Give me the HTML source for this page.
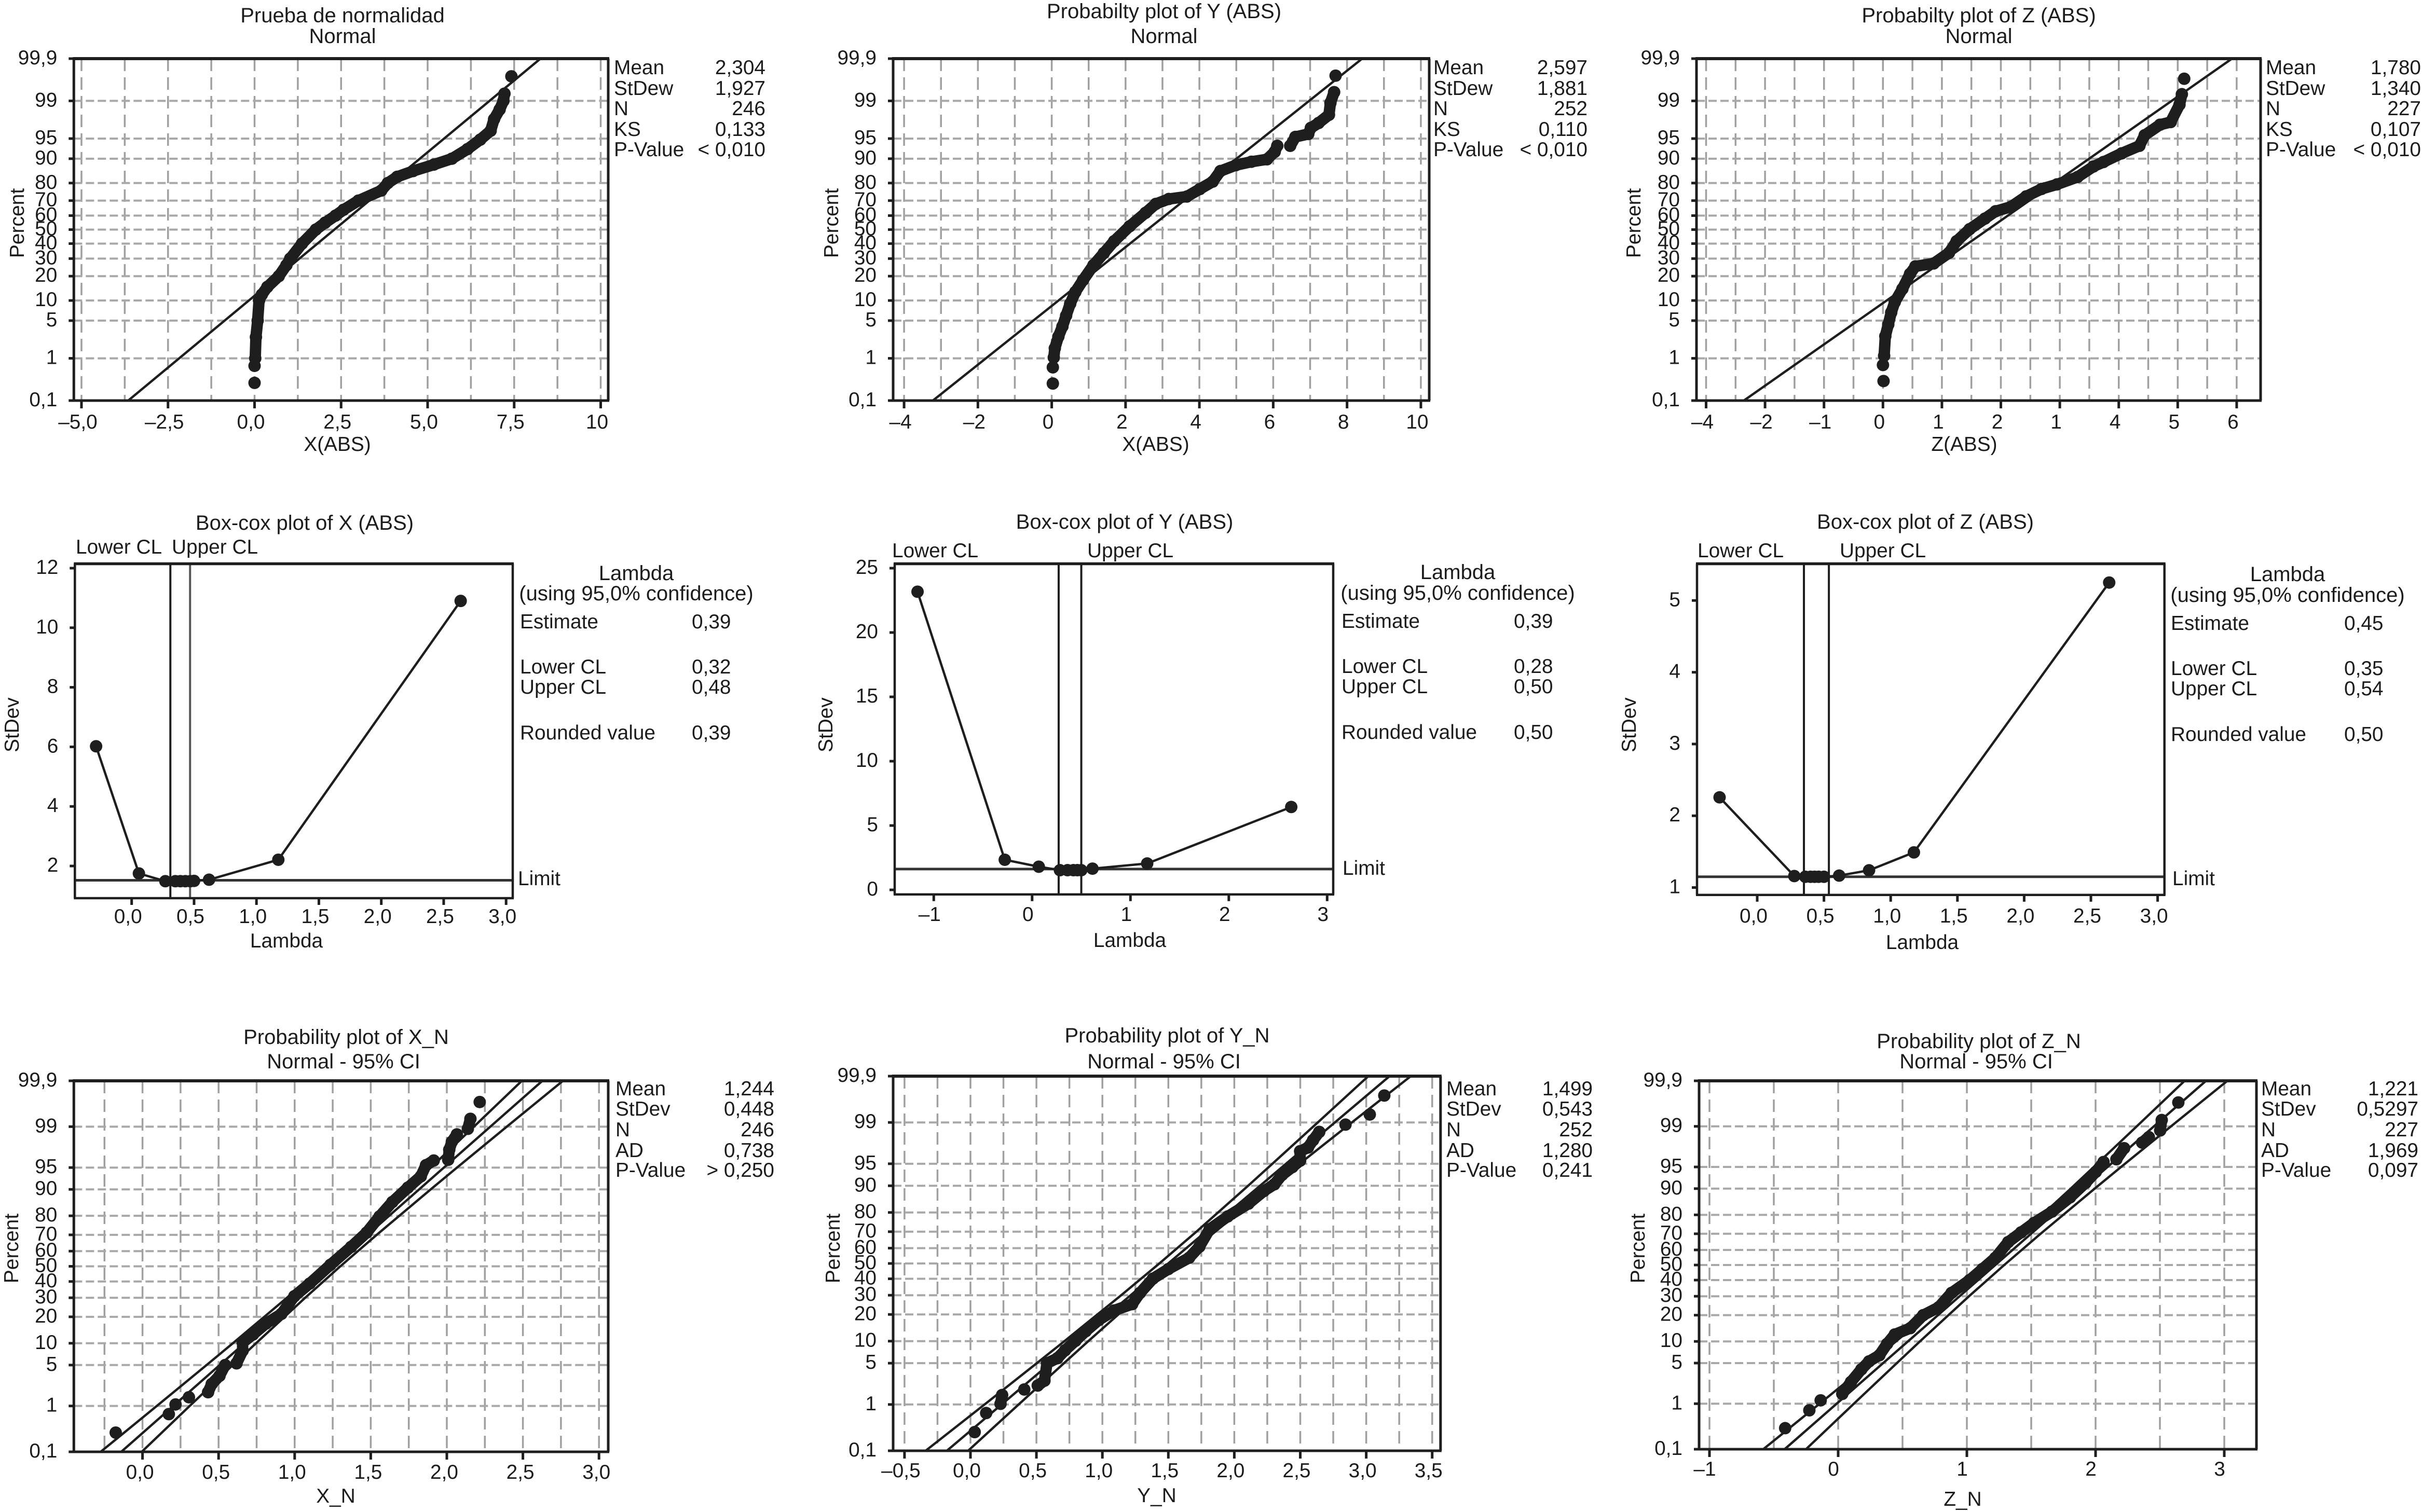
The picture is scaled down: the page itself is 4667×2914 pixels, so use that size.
<!DOCTYPE html>
<html lang="es">
<head>
<meta charset="utf-8">
<title>Normality and Box-Cox plots</title>
<style>
html,body{margin:0;padding:0;background:#fff}
svg{display:block}
text{font-family:"Liberation Sans",sans-serif;font-size:38.8px;fill:#1c1c1c}
.m{text-anchor:middle}
.e{text-anchor:end}
.r{font-size:39px}
.h{font-size:40px}
</style>
</head>
<body>
<svg id="figure" xmlns="http://www.w3.org/2000/svg" width="4667" height="2914" viewBox="0 0 4667 2914">
<rect x="0" y="0" width="4667" height="2914" fill="#fff"/>

<g id="p-x-abs">
<text class="m h" x="660" y="43">Prueba de normalidad</text>
<text class="m h" x="660" y="83">Normal</text>
<text class="m r" transform="translate(46 430) rotate(-90)">Percent</text>
<text class="m" x="650" y="869">X(ABS)</text>
<text x="1183" y="143">Mean</text>
<text class="e" x="1475" y="143">2,304</text>
<text x="1183" y="183">StDew</text>
<text class="e" x="1475" y="183">1,927</text>
<text x="1183" y="222">N</text>
<text class="e" x="1475" y="222">246</text>
<text x="1183" y="262">KS</text>
<text class="e" x="1475" y="262">0,133</text>
<text x="1183" y="301">P-Value</text>
<text class="e" x="1475" y="301">&lt; 0,010</text>
</g>

<g id="p-y-abs">
<text class="m h" x="2243" y="35">Probabilty plot of Y (ABS)</text>
<text class="m h" x="2243" y="83">Normal</text>
<text class="m r" transform="translate(1615 430) rotate(-90)">Percent</text>
<text class="m" x="2227" y="869">X(ABS)</text>
<text x="2762" y="143">Mean</text>
<text class="e" x="3059" y="143">2,597</text>
<text x="2762" y="183">StDew</text>
<text class="e" x="3059" y="183">1,881</text>
<text x="2762" y="222">N</text>
<text class="e" x="3059" y="222">252</text>
<text x="2762" y="262">KS</text>
<text class="e" x="3059" y="262">0,110</text>
<text x="2762" y="301">P-Value</text>
<text class="e" x="3059" y="301">&lt; 0,010</text>
</g>

<g id="p-z-abs">
<text class="m h" x="3813" y="43">Probabilty plot of Z (ABS)</text>
<text class="m h" x="3813" y="83">Normal</text>
<text class="m r" transform="translate(3161 430) rotate(-90)">Percent</text>
<text class="m" x="3785" y="869">Z(ABS)</text>
<text x="4366" y="143">Mean</text>
<text class="e" x="4665" y="143">1,780</text>
<text x="4366" y="183">StDew</text>
<text class="e" x="4665" y="183">1,340</text>
<text x="4366" y="222">N</text>
<text class="e" x="4665" y="222">227</text>
<text x="4366" y="262">KS</text>
<text class="e" x="4665" y="262">0,107</text>
<text x="4366" y="301">P-Value</text>
<text class="e" x="4665" y="301">&lt; 0,010</text>
</g>

<g id="b-x">
<text class="m h" x="587" y="1021">Box-cox plot of X (ABS)</text>
<text x="146" y="1067">Lower CL</text>
<text x="331" y="1067">Upper CL</text>
<text class="m" transform="translate(36 1397) rotate(-90)">StDev</text>
<text class="m" x="552" y="1826">Lambda</text>
<text x="998" y="1706">Limit</text>
<text class="m h" x="1226" y="1118">Lambda</text>
<text class="m h" x="1226" y="1157">(using 95,0% confidence)</text>
<text x="1002" y="1211">Estimate</text>
<text x="1333" y="1211">0,39</text>
<text x="1002" y="1298">Lower CL</text>
<text x="1333" y="1298">0,32</text>
<text x="1002" y="1337">Upper CL</text>
<text x="1333" y="1337">0,48</text>
<text x="1002" y="1425">Rounded value</text>
<text x="1333" y="1425">0,39</text>
</g>

<g id="b-y">
<text class="m h" x="2167" y="1019">Box-cox plot of Y (ABS)</text>
<text x="1719" y="1074">Lower CL</text>
<text x="2095" y="1074">Upper CL</text>
<text class="m" transform="translate(1604 1397) rotate(-90)">StDev</text>
<text class="m" x="2177" y="1825">Lambda</text>
<text x="2587" y="1686">Limit</text>
<text class="m h" x="2809" y="1116">Lambda</text>
<text class="m h" x="2809" y="1156">(using 95,0% confidence)</text>
<text x="2585" y="1210">Estimate</text>
<text x="2917" y="1210">0,39</text>
<text x="2585" y="1297">Lower CL</text>
<text x="2917" y="1297">0,28</text>
<text x="2585" y="1336">Upper CL</text>
<text x="2917" y="1336">0,50</text>
<text x="2585" y="1424">Rounded value</text>
<text x="2917" y="1424">0,50</text>
</g>

<g id="b-z">
<text class="m h" x="3710" y="1019">Box-cox plot of Z (ABS)</text>
<text x="3271" y="1074">Lower CL</text>
<text x="3545" y="1074">Upper CL</text>
<text class="m" transform="translate(3152 1397) rotate(-90)">StDev</text>
<text class="m" x="3704" y="1829">Lambda</text>
<text x="4186" y="1706">Limit</text>
<text class="m h" x="4408" y="1120">Lambda</text>
<text class="m h" x="4408" y="1160">(using 95,0% confidence)</text>
<text x="4183" y="1214">Estimate</text>
<text x="4517" y="1214">0,45</text>
<text x="4183" y="1301">Lower CL</text>
<text x="4517" y="1301">0,35</text>
<text x="4183" y="1340">Upper CL</text>
<text x="4517" y="1340">0,54</text>
<text x="4183" y="1428">Rounded value</text>
<text x="4517" y="1428">0,50</text>
</g>

<g id="p-x-n">
<text class="m h" x="667" y="2012">Probability plot of X_N</text>
<text class="m h" x="662" y="2059">Normal - 95% CI</text>
<text class="m r" transform="translate(35 2406) rotate(-90)">Percent</text>
<text class="m" x="647" y="2896">X_N</text>
<text x="1186" y="2111">Mean</text>
<text class="e" x="1492" y="2111">1,244</text>
<text x="1186" y="2150">StDev</text>
<text class="e" x="1492" y="2150">0,448</text>
<text x="1186" y="2190">N</text>
<text class="e" x="1492" y="2190">246</text>
<text x="1186" y="2230">AD</text>
<text class="e" x="1492" y="2230">0,738</text>
<text x="1186" y="2268">P-Value</text>
<text class="e" x="1492" y="2268">&gt; 0,250</text>
</g>

<g id="p-y-n">
<text class="m h" x="2249" y="2009">Probability plot of Y_N</text>
<text class="m h" x="2243" y="2059">Normal - 95% CI</text>
<text class="m r" transform="translate(1618 2406) rotate(-90)">Percent</text>
<text class="m" x="2229" y="2895">Y_N</text>
<text x="2787" y="2111">Mean</text>
<text class="e" x="3069" y="2111">1,499</text>
<text x="2787" y="2150">StDev</text>
<text class="e" x="3069" y="2150">0,543</text>
<text x="2787" y="2190">N</text>
<text class="e" x="3069" y="2190">252</text>
<text x="2787" y="2230">AD</text>
<text class="e" x="3069" y="2230">1,280</text>
<text x="2787" y="2268">P-Value</text>
<text class="e" x="3069" y="2268">0,241</text>
</g>

<g id="p-z-n">
<text class="m h" x="3813" y="2020">Probability plot of Z_N</text>
<text class="m h" x="3808" y="2059">Normal - 95% CI</text>
<text class="m r" transform="translate(3169 2406) rotate(-90)">Percent</text>
<text class="m" x="3782" y="2902">Z_N</text>
<text x="4357" y="2111">Mean</text>
<text class="e" x="4660" y="2111">1,221</text>
<text x="4357" y="2150">StDev</text>
<text class="e" x="4660" y="2150">0,5297</text>
<text x="4357" y="2190">N</text>
<text class="e" x="4660" y="2190">227</text>
<text x="4357" y="2230">AD</text>
<text class="e" x="4660" y="2230">1,969</text>
<text x="4357" y="2268">P-Value</text>
<text class="e" x="4660" y="2268">0,097</text>
</g>
</svg>

<script>
// ---- shared percent axis ----
const percentTicks = [0.1, 1, 5, 10, 20, 30, 40, 50, 60, 70, 80, 90, 95, 99, 99.9];
const percentTickLabels = ['0,1', '1', '5', '10', '20', '30', '40', '50', '60', '70', '80', '90', '95', '99', '99,9'];
const fitPercents = [0.1, 99.9];
const ciPercents = [0.1, 1, 5, 10, 30, 50, 70, 90, 95, 99, 99.9];

// ---- X(ABS) ----
const xAbsTicks = [-5, -2.5, 0, 2.5, 5, 7.5, 10];
const xAbsTickLabels = ['\u20135,0', '\u20132,5', '0,0', '2,5', '5,0', '7,5', '10'];
const xAbsFit = [-3.65, 8.26];
const xAbsRuns = [
  [[0.0, 0.28]],
  [[0.0, 0.69]],
  [[0.02, 1], [0.04, 2.6], [0.09, 5], [0.13, 10], [0.21, 12], [0.37, 15], [0.70, 20], [0.92, 26], [1.03, 30], [1.37, 40], [1.77, 50], [2.04, 55], [2.34, 60], [2.57, 64], [3.0, 70], [3.66, 76], [3.85, 80], [4.12, 83], [4.58, 85.5], [5.18, 88], [5.7, 90], [6.15, 92.7], [6.52, 94.8], [6.82, 96.3], [6.92, 97.7], [7.08, 98.5], [7.19, 99], [7.22, 99.3]],
  [[7.42, 99.72]]
];

// ---- Y(ABS) ----
const yAbsTicks = [-4, -2, 0, 2, 4, 6, 8, 10];
const yAbsTickLabels = ['\u20134', '\u20132', '0', '2', '4', '6', '8', '10'];
const yAbsFit = [-3.22, 8.41];
const yAbsRuns = [
  [[0.03, 0.27]],
  [[0.03, 0.64]],
  [[0.056, 1.04], [0.084, 1.6], [0.18, 2.65], [0.29, 4], [0.39, 6], [0.50, 9], [0.64, 13], [0.85, 18.1], [1.13, 26], [1.41, 33.5], [1.69, 41.7], [2.11, 52.4], [2.54, 61.9], [2.82, 67.9], [3.17, 71], [3.66, 72.5], [4.01, 76.8], [4.36, 80.7], [4.57, 85.5], [4.99, 87.8], [5.41, 89], [5.83, 89.8], [6.04, 92], [6.11, 93.5]],
  [[6.46, 93.5], [6.6, 95.3], [6.95, 95.8], [7.02, 96.7], [7.23, 97.3], [7.51, 98.1], [7.55, 98.9], [7.65, 99.35]],
  [[7.69, 99.73]]
];

// ---- Z(ABS) (the printed labels skip -3 and misprint 3 as in the source) ----
const zAbsTicks = [-3, -2, -1, 0, 1, 2, 3, 4, 5, 6];
const zAbsTickLabels = ['\u20134', '\u20132', '\u20131', '0', '1', '2', '1', '4', '5', '6'];
const zAbsFit = [-2.36, 5.92];
const zAbsRuns = [
  [[0.01, 0.31]],
  [[0.0, 0.72]],
  [[0.02, 1.13], [0.04, 2.7], [0.09, 4.3], [0.14, 6.7], [0.2, 9.5], [0.33, 14.2], [0.46, 21.2], [0.55, 25.3], [0.86, 27], [1.12, 33.7], [1.25, 41.7], [1.47, 50.3], [1.73, 57.9], [1.91, 63], [2.17, 66], [2.43, 72.6], [2.69, 76.9], [2.95, 79.3], [3.3, 82.9], [3.57, 87.3], [3.74, 88.9], [4.05, 91.6], [4.35, 93.5], [4.44, 95.6], [4.7, 97.1], [4.88, 97.4], [5.03, 98.8], [5.07, 99.28]],
  [[5.11, 99.68]]
];

// ---- X_N ----
const xNTicks = [0, 0.5, 1, 1.5, 2, 2.5, 3];
const xNTickLabels = ['0,0', '0,5', '1,0', '1,5', '2,0', '2,5', '3,0'];
const xNFit = [-0.14, 2.628];
const xNCiLower = [-0.275, 0.094, 0.421, 0.594, 0.949, 1.188, 1.419, 1.742, 1.895, 2.178, 2.493];
const xNCiUpper = [-0.005, 0.310, 0.593, 0.746, 1.069, 1.300, 1.539, 1.894, 2.067, 2.394, 2.763];
const xNRuns = [
  [[-0.176, 0.28]],
  [[0.173, 0.69]],
  [[0.217, 1.07]],
  [[0.305, 1.46]],
  [[0.431, 1.8], [0.455, 2.5], [0.506, 3.4], [0.543, 5]],
  [[0.618, 5.3], [0.658, 8], [0.658, 10.2], [0.726, 12.8], [0.811, 17], [0.913, 21.4], [0.998, 30.9], [1.099, 38.7], [1.235, 51], [1.371, 62.7], [1.473, 71.3], [1.558, 79.7], [1.642, 85.8], [1.744, 90.5], [1.829, 93.3], [1.863, 95.4], [1.914, 96.1]],
  [[2.009, 96.2], [2.016, 97.4], [2.033, 98.1], [2.066, 98.6]],
  [[2.138, 98.9], [2.155, 99.3]],
  [[2.216, 99.69]]
];

// ---- Y_N ----
const yNTicks = [-0.5, 0, 0.5, 1, 1.5, 2, 2.5, 3, 3.5];
const yNTickLabels = ['\u20130,5', '0,0', '0,5', '1,0', '1,5', '2,0', '2,5', '3,0', '3,5'];
const yNFit = [-0.179, 3.177];
const yNCiLower = [-0.340, 0.107, 0.503, 0.7125, 1.1425, 1.432, 1.7125, 2.1045, 2.289, 2.633, 3.016];
const yNCiUpper = [-0.018, 0.365, 0.709, 0.8935, 1.2855, 1.566, 1.8555, 2.2855, 2.495, 2.891, 3.338];
const yNRuns = [
  [[0.032, 0.27]],
  [[0.119, 0.68]],
  [[0.228, 1.03], [0.24, 1.5]],
  [[0.408, 1.88]],
  [[0.51, 2.2], [0.561, 2.66], [0.58, 5], [0.659, 5.9], [0.717, 7.6], [0.796, 10.1], [0.874, 13.2], [0.972, 17.5], [1.089, 21.9], [1.226, 25.1], [1.285, 31.3], [1.383, 40.1], [1.50, 46.3], [1.657, 53.7], [1.735, 60.9], [1.813, 71.4], [1.95, 78.1], [2.107, 83.8], [2.224, 88.4], [2.303, 90.4], [2.362, 92.8], [2.44, 94.4], [2.499, 95.5], [2.499, 96.8], [2.558, 97.2], [2.597, 97.9], [2.644, 98.5]],
  [[2.843, 98.9]],
  [[3.027, 99.3]],
  [[3.137, 99.72]]
];

// ---- Z_N ----
const zNTicks = [-1, 0, 1, 2, 3];
const zNTickLabels = ['\u20131', '0', '1', '2', '3'];
const zNFit = [-0.416, 2.858];
const zNCiLower = [-0.582, -0.144, 0.244, 0.449, 0.8695, 1.152, 1.4255, 1.807, 1.986, 2.320, 2.692];
const zNCiUpper = [-0.250, 0.122, 0.456, 0.635, 1.0165, 1.290, 1.5725, 1.993, 2.198, 2.586, 3.024];
const zNRuns = [
  [[-0.412, 0.31]],
  [[-0.224, 0.74]],
  [[-0.136, 1.16]],
  [[0.032, 1.53], [0.10, 2.5], [0.18, 4], [0.24, 5.3], [0.32, 6.5], [0.38, 9.3], [0.44, 12.2], [0.561, 14.5], [0.661, 20], [0.781, 23.9], [0.881, 32], [1.021, 40], [1.121, 47.3], [1.221, 54.8], [1.321, 65], [1.421, 70.8], [1.522, 76], [1.662, 81.5], [1.802, 87.2], [1.922, 91.6], [2.002, 94.1], [2.062, 95.8]],
  [[2.162, 96.2], [2.222, 97.5]],
  [[2.362, 98], [2.414, 98.4]],
  [[2.502, 98.8], [2.514, 99.25]],
  [[2.643, 99.68]]
];

// ---- Box-Cox series ----
const boxXLambda = [-0.285, 0.058, 0.27, 0.35, 0.39, 0.43, 0.47, 0.5, 0.62, 1.175, 2.636];
const boxXStdev = [6.02, 1.75, 1.49, 1.49, 1.49, 1.49, 1.49, 1.5, 1.54, 2.21, 10.9];
const boxXYTicks = [2, 4, 6, 8, 10, 12];
const boxXXTicks = [0, 0.5, 1, 1.5, 2, 2.5, 3];
const boxXXLabels = ['0,0', '0,5', '1,0', '1,5', '2,0', '2,5', '3,0'];
const boxXCl = [0.31, 0.468];
const boxXLimit = 1.52;

const boxYLambda = [-1.165, -0.278, 0.068, 0.283, 0.36, 0.42, 0.46, 0.5, 0.614, 1.17, 2.635];
const boxYStdev = [23.17, 2.34, 1.8, 1.53, 1.53, 1.53, 1.53, 1.53, 1.65, 2.05, 6.44];
const boxYYTicks = [0, 5, 10, 15, 20, 25];
const boxYXTicks = [-1, 0, 1, 2, 3];
const boxYXLabels = ['\u20131', '0', '1', '2', '3'];
const boxYCl = [0.27, 0.50];
const boxYLimit = 1.62;

const boxZLambda = [-0.282, 0.278, 0.36, 0.4, 0.43, 0.46, 0.5, 0.614, 0.838, 1.174, 2.637];
const boxZStdev = [2.257, 1.16, 1.15, 1.15, 1.15, 1.15, 1.15, 1.166, 1.24, 1.49, 5.25];
const boxZYTicks = [1, 2, 3, 4, 5];
const boxZXTicks = [0, 0.5, 1, 1.5, 2, 2.5, 3];
const boxZXLabels = ['0,0', '0,5', '1,0', '1,5', '2,0', '2,5', '3,0'];
const boxZCl = [0.35, 0.537];
const boxZLimit = 1.15;

// ---- layout (pixels) ----
const probLayouts = [
  {id: 'p-x-abs', L: 142.3, R: 1172, T: 113, B: 772, x0: 490.5, sx: 66.7, base: 826, off: -7, gs: -5, gd: 1.25, ticks: xAbsTicks, labels: xAbsTickLabels, fit: xAbsFit, runs: xAbsRuns},
  {id: 'p-y-abs', L: 1721, R: 2754, T: 113, B: 772, x0: 2026.6, sx: 71.13, base: 826, off: -7, gs: -4, gd: 1, ticks: yAbsTicks, labels: yAbsTickLabels, fit: yAbsFit, runs: yAbsRuns},
  {id: 'p-z-abs', L: 3269, R: 4356, T: 113, B: 772, x0: 3628.3, sx: 113.6, base: 826, off: -7, gs: -3, gd: 0.5, ticks: zAbsTicks, labels: zAbsTickLabels, fit: zAbsFit, runs: zAbsRuns},
  {id: 'p-x-n', L: 142.3, R: 1172, T: 2083, B: 2798, x0: 274.6, sx: 293.2, base: 2850, off: -5, gs: -0.25, gd: 0.25, ticks: xNTicks, labels: xNTickLabels, fit: xNFit, ciL: xNCiLower, ciU: xNCiUpper, runs: xNRuns},
  {id: 'p-y-n', L: 1721, R: 2775.8, T: 2074, B: 2796, x0: 1870, sx: 254.2, base: 2847, off: -7, gs: -0.5, gd: 0.25, ticks: yNTicks, labels: yNTickLabels, fit: yNFit, ciL: yNCiLower, ciU: yNCiUpper, runs: yNRuns},
  {id: 'p-z-n', L: 3274, R: 4348, T: 2083, B: 2793, x0: 3542, sx: 248, base: 2844, off: -9, gs: -1, gd: 0.5, ticks: zNTicks, labels: zNTickLabels, fit: zNFit, ciL: zNCiLower, ciU: zNCiUpper, runs: zNRuns}
];
const boxLayouts = [
  {id: 'b-x', L: 144.3, R: 988, T: 1086.5, B: 1731, x0: 253.7, sx: 240.5, yRef: 2, yPx: 1669, sy: 57.4, base: 1779, off: -7, lam: boxXLambda, sd: boxXStdev, yt: boxXYTicks, xt: boxXXTicks, xl: boxXXLabels, cl: boxXCl, limit: boxXLimit, clGrey: true},
  {id: 'b-y', L: 1724, R: 2569, T: 1086.5, B: 1723.7, x0: 1988.8, sx: 189.5, yRef: 0, yPx: 1715, sy: 24.8, base: 1775, off: -8, lam: boxYLambda, sd: boxYStdev, yt: boxYYTicks, xt: boxYXTicks, xl: boxYXLabels, cl: boxYCl, limit: boxYLimit, clGrey: false},
  {id: 'b-z', L: 3270, R: 4170.7, T: 1086.5, B: 1724.8, x0: 3386, sx: 257.2, yRef: 1, yPx: 1710.5, sy: 138.3, base: 1778, off: -7, lam: boxZLambda, sd: boxZStdev, yt: boxZYTicks, xt: boxZXTicks, xl: boxZXLabels, cl: boxZCl, limit: boxZLimit, clGrey: false}
];

const NS = 'http://www.w3.org/2000/svg';
const INK = '#1e1e1e';

function mk(parent, tag, attrs, name) {
  const el = document.createElementNS(NS, tag);
  for (const k in attrs) { el.setAttribute(k, attrs[k]); }
  
  
  parent.appendChild(el);
  return el;
}

function tickLabel(parent, x, y, str, cls, name) {
  const el = mk(parent, 'text', {x: x, y: y, 'class': cls}, name);
  el.textContent = str;
}

function probit(p) {
  const q = p < 0.5 ? p : 1 - p;
  const t = Math.sqrt(-2 * Math.log(q));
  const z = t - (2.515517 + 0.802853 * t + 0.010328 * t * t) / (1 + 1.432788 * t + 0.189269 * t * t + 0.001308 * t * t * t);
  return p < 0.5 ? -z : z;
}

function frame(g, a, w) {
  mk(g, 'line', {x1: a.L - 2, x2: a.R + 2, y1: a.T, y2: a.T, stroke: INK, 'stroke-width': w + 1}, 'plot-frame-top');
  mk(g, 'line', {x1: a.L - 2, x2: a.R + 2, y1: a.B, y2: a.B, stroke: INK, 'stroke-width': w}, 'plot-frame-bottom');
  mk(g, 'line', {x1: a.L, x2: a.L, y1: a.T, y2: a.B, stroke: INK, 'stroke-width': w}, 'plot-frame-left');
  mk(g, 'line', {x1: a.R, x2: a.R, y1: a.T, y2: a.B, stroke: INK, 'stroke-width': w}, 'plot-frame-right');
}

function drawProb(a) {
  const g = document.getElementById(a.id);
  const X = function (v) { return a.x0 + v * a.sx; };
  const mid = (a.T + a.B) / 2;
  const half = (a.B - a.T) / 2;
  const zMax = probit(0.999);
  const Y = function (p) { return mid - probit(p / 100) / zMax * half; };

  for (let v = a.gs; X(v) < a.R - 2; v += a.gd) {
    mk(g, 'line', {x1: X(v), x2: X(v), y1: a.T, y2: a.B, stroke: '#a0a0a0', 'stroke-width': 3.5, 'stroke-dasharray': '24 12'}, 'vertical-gridline');
  }
  percentTicks.forEach(function (p, i) {
    if (p !== 0.1 && p !== 99.9) {
      mk(g, 'line', {x1: a.L, x2: a.R, y1: Y(p), y2: Y(p), stroke: '#a8a8a8', 'stroke-width': 4, 'stroke-dasharray': '16 7'}, 'horizontal-gridline');
    }
    mk(g, 'line', {x1: a.L - 10, x2: a.L, y1: Y(p), y2: Y(p), stroke: INK, 'stroke-width': 5}, 'y-tick');
    tickLabel(g, a.L - 32, Y(p) + 11, percentTickLabels[i], 'e', 'y-tick-label');
  });
  a.ticks.forEach(function (v, i) {
    mk(g, 'line', {x1: X(v), x2: X(v), y1: a.B, y2: a.B + 15, stroke: INK, 'stroke-width': 5}, 'x-tick');
    tickLabel(g, X(v) + a.off, a.base, a.labels[i], 'm', 'x-tick-label');
  });

  const fitPts = fitPercents.map(function (p, i) { return X(a.fit[i]) + ',' + Y(p); }).join(' ');
  mk(g, 'polyline', {points: fitPts, fill: 'none', stroke: INK, 'stroke-width': 4.5}, 'fit-line');
  if (a.ciL) {
    const low = ciPercents.map(function (p, i) { return X(a.ciL[i]) + ',' + Y(p); }).join(' ');
    const up = ciPercents.map(function (p, i) { return X(a.ciU[i]) + ',' + Y(p); }).join(' ');
    mk(g, 'polyline', {points: low, fill: 'none', stroke: INK, 'stroke-width': 4.5}, 'ci-lower-line');
    mk(g, 'polyline', {points: up, fill: 'none', stroke: INK, 'stroke-width': 4.5}, 'ci-upper-line');
  }

  a.runs.forEach(function (run) {
    if (run.length > 1) {
      const pts = run.map(function (d) { return X(d[0]) + ',' + Y(d[1]); }).join(' ');
      mk(g, 'polyline', {points: pts, fill: 'none', stroke: INK, 'stroke-width': 22, 'stroke-linejoin': 'round', 'stroke-linecap': 'round'}, 'data-band');
    }
    run.forEach(function (d) {
      mk(g, 'circle', {cx: X(d[0]), cy: Y(d[1]), r: 12, fill: INK}, 'data-point');
    });
  });
  frame(g, a, 5);
}

function drawBox(a) {
  const g = document.getElementById(a.id);
  const X = function (v) { return a.x0 + v * a.sx; };
  const Y = function (v) { return a.yPx - (v - a.yRef) * a.sy; };

  a.yt.forEach(function (v) {
    mk(g, 'line', {x1: a.L - 10, x2: a.L, y1: Y(v), y2: Y(v), stroke: INK, 'stroke-width': 5}, 'y-tick');
    tickLabel(g, a.L - 32, Y(v) + 11, String(v), 'e', 'y-tick-label');
  });
  a.xt.forEach(function (v, i) {
    mk(g, 'line', {x1: X(v), x2: X(v), y1: a.B, y2: a.B + 13, stroke: INK, 'stroke-width': 5}, 'x-tick');
    tickLabel(g, X(v) + a.off, a.base, a.xl[i], 'm', 'x-tick-label');
  });
  mk(g, 'line', {x1: X(a.cl[0]), x2: X(a.cl[0]), y1: a.T, y2: a.B, stroke: INK, 'stroke-width': 4}, 'lower-cl-line');
  mk(g, 'line', {x1: X(a.cl[1]), x2: X(a.cl[1]), y1: a.T, y2: a.B, stroke: a.clGrey ? '#555' : INK, 'stroke-width': 4}, 'upper-cl-line');
  mk(g, 'line', {x1: a.L, x2: a.R, y1: Y(a.limit), y2: Y(a.limit), stroke: '#333', 'stroke-width': 5}, 'limit-line');
  const pts = a.lam.map(function (v, i) { return X(v) + ',' + Y(a.sd[i]); }).join(' ');
  mk(g, 'polyline', {points: pts, fill: 'none', stroke: INK, 'stroke-width': 4.5}, 'stdev-line');
  a.lam.forEach(function (v, i) {
    mk(g, 'circle', {cx: X(v), cy: Y(a.sd[i]), r: 12, fill: INK}, 'stdev-point');
  });
  frame(g, a, 4.5);
}

probLayouts.forEach(drawProb);
boxLayouts.forEach(drawBox);
</script>
</body>
</html>
